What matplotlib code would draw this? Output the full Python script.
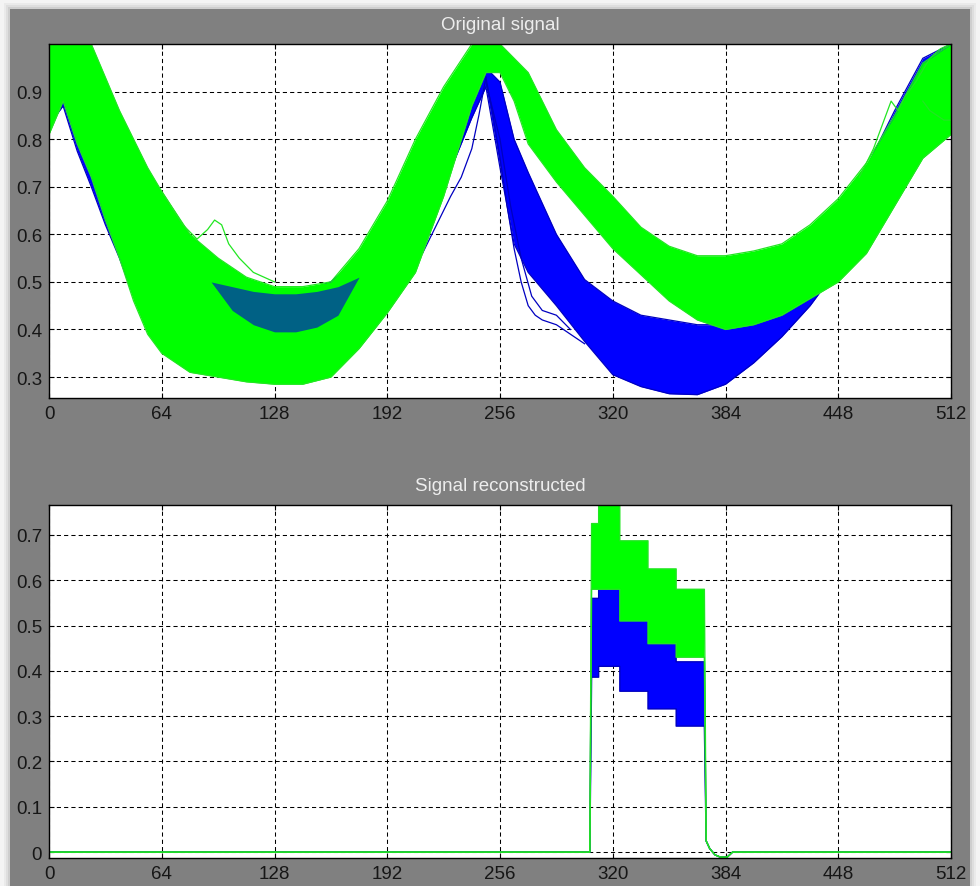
import numpy as np
import matplotlib
matplotlib.use("Agg")
import matplotlib.pyplot as plt
from matplotlib.patches import Rectangle

plt.rcParams['font.family'] = ['Liberation Sans', 'DejaVu Sans']

# ---------------- data ----------------
x_ticks = [0, 64, 128, 192, 256, 320, 384, 448, 512]
top_yticks = [0.3, 0.4, 0.5, 0.6, 0.7, 0.8, 0.9]
bottom_yticks = [0, 0.1, 0.2, 0.3, 0.4, 0.5, 0.6, 0.7]

# sample positions of the original signal envelopes
top_x = [0, 8, 16, 24, 32, 40, 48, 56, 64, 80, 96, 112, 128, 144, 160, 176,
         192, 208, 224, 240, 248, 256, 264, 272, 288, 304, 320, 336, 352, 368,
         384, 400, 416, 432, 448, 464, 480, 496, 512]

# class 2 (green) envelope
green_upper = [1.0, 1.0, 1.0, 1.0, 0.93, 0.86, 0.80, 0.74, 0.69, 0.60, 0.55,
               0.51, 0.49, 0.49, 0.50, 0.57, 0.67, 0.80, 0.91, 1.0, 1.0, 1.0,
               0.97, 0.94, 0.82, 0.74, 0.68, 0.615, 0.575, 0.555, 0.555, 0.565,
               0.58, 0.62, 0.675, 0.75, 0.85, 0.96, 1.0]
green_lower = [0.81, 0.88, 0.79, 0.72, 0.63, 0.55, 0.46, 0.39, 0.35, 0.31, 0.30,
               0.29, 0.285, 0.285, 0.30, 0.36, 0.435, 0.52, 0.68, 0.87, 0.94,
               0.94, 0.88, 0.79, 0.71, 0.64, 0.57, 0.515, 0.46, 0.42, 0.40,
               0.41, 0.43, 0.465, 0.50, 0.56, 0.66, 0.76, 0.81]

# class 1 (blue) envelope
blue_upper = [0.95, 0.96, 0.95, 0.91, 0.86, 0.80, 0.74, 0.68, 0.63, 0.56, 0.52,
              0.49, 0.48, 0.48, 0.50, 0.55, 0.63, 0.74, 0.84, 0.92, 0.95, 0.92,
              0.80, 0.73, 0.60, 0.505, 0.46, 0.43, 0.42, 0.41, 0.41, 0.43,
              0.47, 0.54, 0.64, 0.74, 0.86, 0.97, 1.0]
blue_lower = [0.83, 0.87, 0.775, 0.70, 0.62, 0.55, 0.47, 0.42, 0.40, 0.38, 0.37,
              0.36, 0.36, 0.37, 0.39, 0.43, 0.50, 0.55, 0.70, 0.845, 0.91, 0.74,
              0.58, 0.52, 0.45, 0.375, 0.305, 0.28, 0.265, 0.263, 0.285, 0.33,
              0.385, 0.45, 0.53, 0.62, 0.74, 0.87, 0.97]

# blue traces showing through in the first trough
trough_x = [92, 104, 116, 128, 140, 152, 164, 176]
blue_trough_upper = [0.50, 0.49, 0.48, 0.475, 0.475, 0.48, 0.49, 0.51]
blue_trough_lower = [0.50, 0.44, 0.41, 0.395, 0.395, 0.405, 0.43, 0.51]

# individual outlying traces
green_bump_x = [64, 76, 84, 90, 94, 98, 102, 108, 116, 128]
green_bump_y = [0.69, 0.62, 0.59, 0.61, 0.63, 0.62, 0.58, 0.55, 0.52, 0.50]
green_tail_x = [460, 468, 474, 478, 482, 486, 492, 500, 506, 512]
green_tail_y = [0.72, 0.78, 0.84, 0.88, 0.86, 0.89, 0.92, 0.97, 0.99, 1.0]
green_end_x = [496, 500, 504, 508, 512]
green_end_y = [0.88, 0.86, 0.85, 0.84, 0.84]
blue_arm_x = [212, 220, 228, 234, 240, 244, 248]
blue_arm_y = [0.56, 0.62, 0.68, 0.72, 0.78, 0.85, 0.93]
blue_drop1_x = [248, 252, 256, 260, 264, 268, 272, 276, 280, 288, 296, 304]
blue_drop1_y = [0.93, 0.85, 0.76, 0.66, 0.57, 0.50, 0.45, 0.43, 0.42, 0.41, 0.39, 0.37]
blue_drop2_x = [248, 256, 262, 268, 274, 280, 288, 296]
blue_drop2_y = [0.92, 0.80, 0.66, 0.55, 0.47, 0.44, 0.43, 0.40]

# reconstructed signal: level changes and levels of each band
level_edges = [308, 312, 324, 340, 356, 372]
green_top = [0.725, 0.77, 0.687, 0.625, 0.58]
green_bottom = [0.58, 0.58, 0.51, 0.46, 0.43]
blue_top = [0.56, 0.58, 0.52, 0.47, 0.42]
blue_bottom = [0.386, 0.41, 0.355, 0.316, 0.278]
tail_x = [373, 375, 378, 381, 385, 388, 512]
tail_y = [0.025, 0.008, -0.006, -0.011, -0.011, 0.0, 0.0]
rise_start = 307

GREEN = '#00ff00'
BLUE = '#0000ff'
GREEN_EDGE = '#22e622'
BLUE_EDGE = '#0000c0'

# ---------------- figure ----------------
W, H = 980, 887
fig = plt.figure(figsize=(W / 100, H / 100), dpi=100, facecolor='#f4f4f4')


def px_rect(x0, y0, x1, y1):
    return [x0 / W, 1 - y1 / H, (x1 - x0) / W, (y1 - y0) / H]


# window panel with soft shadow
for grow, alpha in [(6, 0.04), (4, 0.05), (2, 0.07)]:
    fig.add_artist(Rectangle(((10 - grow) / W, 0), (960 + 2 * grow) / W,
                             (877 + grow) / H, transform=fig.transFigure,
                             facecolor='black', edgecolor='none', alpha=alpha,
                             zorder=0))
fig.add_artist(Rectangle((10 / W, 0), 960 / W, 877 / H, transform=fig.transFigure,
                         facecolor='#808080', edgecolor='none', zorder=0))

ax1 = fig.add_axes(px_rect(49, 45, 951, 399))
ax2 = fig.add_axes(px_rect(49, 506, 951, 859))


def style(ax, yticks, ylim, title):
    ax.set_facecolor('white')
    ax.set_xlim(0, 512)
    ax.set_ylim(*ylim)
    ax.set_xticks(x_ticks)
    ax.set_xticklabels([str(v) for v in x_ticks])
    ax.set_yticks(yticks)
    ax.set_yticklabels([f'{v:g}' for v in yticks])
    ax.grid(True, color='black', linestyle=(0, (4, 3)), linewidth=0.75)
    ax.set_axisbelow(True)
    ax.tick_params(direction='in', length=3.5, width=0.8, top=True, right=True,
                   labelsize=13.5, labelcolor='#161616', pad=5)
    for s in ax.spines.values():
        s.set_linewidth(1.0)
        s.set_color('black')
    ax.set_title(title, color='#ededed', fontsize=13.5, pad=11)


style(ax1, top_yticks, (0.256, 1.0), 'Original signal')
style(ax2, bottom_yticks, (-0.013, 0.766), 'Signal reconstructed')

# ---- original signal ----
ax1.fill_between(top_x, blue_lower, blue_upper, color=BLUE, lw=0, zorder=1)
for xs, ys in [(top_x, blue_lower), (top_x, blue_upper),
               (blue_arm_x, blue_arm_y), (blue_drop1_x, blue_drop1_y),
               (blue_drop2_x, blue_drop2_y)]:
    ax1.plot(xs, ys, color=BLUE_EDGE, lw=0.9, zorder=1.1)

ax1.fill_between(top_x, green_lower, green_upper, color=GREEN, lw=0, zorder=2)
for xs, ys in [(top_x, green_lower), (top_x, green_upper),
               (green_bump_x, green_bump_y), (green_tail_x, green_tail_y),
               (green_end_x, green_end_y)]:
    ax1.plot(xs, ys, color=GREEN_EDGE, lw=0.9, zorder=2.1)

ax1.fill_between(trough_x, blue_trough_lower, blue_trough_upper, color='#0000d8',
                 alpha=0.62, lw=0, zorder=3)


# ---- reconstructed signal ----
def outline(levels):
    xs = [0, rise_start]
    ys = [0.0, 0.0]
    for i, v in enumerate(levels):
        xs += [level_edges[i], level_edges[i + 1]]
        ys += [v, v]
    return xs + tail_x, ys + tail_y


def band(ax, lo, hi, face, edge, z):
    ax.fill_between(level_edges, lo + [lo[-1]], hi + [hi[-1]], step='post',
                    color=face, lw=0, zorder=z)
    for levels in (lo, hi):
        xs, ys = outline(levels)
        ax.plot(xs, ys, color=edge, lw=1.0, zorder=z + 0.1)


band(ax2, blue_bottom, blue_top, BLUE, BLUE_EDGE, 1)
band(ax2, green_bottom, green_top, GREEN, GREEN_EDGE, 2)

fig.savefig('out.png', dpi=100, facecolor=fig.get_facecolor())
